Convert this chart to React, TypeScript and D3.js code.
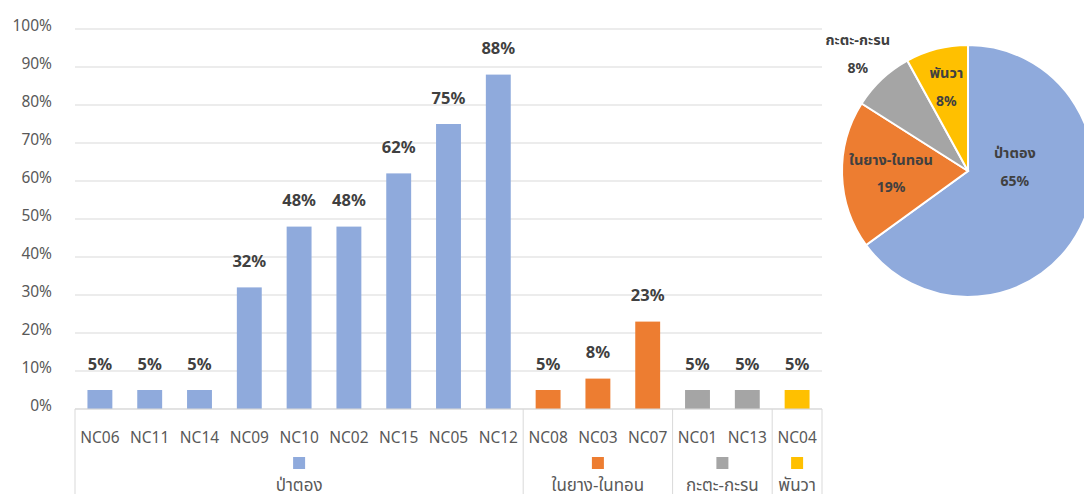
import React from "react";
import * as d3 from "d3";

const categories = ["NC06","NC11","NC14","NC09","NC10","NC02","NC15","NC05","NC12","NC08","NC03","NC07","NC01","NC13","NC04"];
const values = [5,5,5,32,48,48,62,75,88,5,8,23,5,5,5];
const catGroup = [0,0,0,0,0,0,0,0,0,1,1,1,2,2,3];
const groups = ["ป่าตอง","ในยาง-ในทอน","กะตะ-กะรน","พันวา"];
const groupColors = ["#8FAADC","#ED7D31","#A5A5A5","#FFC000"];
const pieValues = [65,19,8,8];
const yTicks = [0,10,20,30,40,50,60,70,80,90,100];

const W = 1084, H = 494;
const FONT = "'Noto Sans', 'Noto Sans Thai', 'Leelawadee UI', Tahoma, sans-serif";

export default function App() {
  const plotL = 75, plotR = 822, plotT = 29, plotB = 409;
  const y = d3.scaleLinear().domain([0, 100]).range([plotB, plotT]);
  const x = d3.scaleBand<string>().domain(categories).range([plotL, plotR]).paddingInner(0.5).paddingOuter(0.25);
  const step = x.step();
  const bw = x.bandwidth();
  const boundaryLeft = (i: number) => (x(categories[i]) as number) + bw / 2 - step / 2;

  const groupExt = groups.map((g, gi) => {
    const idx = categories.map((_, i) => i).filter(i => catGroup[i] === gi);
    const a = boundaryLeft(idx[0]);
    const b = boundaryLeft(idx[idx.length - 1]) + step;
    return { a, b, mid: (a + b) / 2 };
  });
  const seps = [plotL, ...groupExt.map(e => e.b)];

  const cx = 968, cy = 171, R = 126;
  const pie = d3.pie<number>().sort(null).value(d => d)(pieValues);
  const arc = d3.arc<d3.PieArcDatum<number>>().innerRadius(0).outerRadius(R);
  const labelR = [47, 77, 161, 87];
  const labelAngleShift = [-0.55, 0, 0, 0];

  return (
    <svg width={W} height={H} style={{ position: "absolute", left: 0, top: 0, fontFamily: FONT }}>
      <rect x={0} y={0} width={W} height={H} fill="#fff" />
      {yTicks.map(t => (
        <g key={t}>
          <line x1={plotL} x2={plotR} y1={y(t)} y2={y(t)} stroke="#D9D9D9" strokeWidth={1} />
          <text x={52} y={y(t) - 3} dy="0.35em" textAnchor="end" fontSize={15.5} fill="#595959">{t}%</text>
        </g>
      ))}
      {categories.map((c, i) => (
        <g key={c}>
          <rect x={x(c)} y={y(values[i])} width={bw} height={plotB - y(values[i])} fill={groupColors[catGroup[i]]} />
          <text x={(x(c) as number) + bw / 2} y={y(values[i]) - 26} dy="0.35em" textAnchor="middle" fontSize={16.5} fontWeight="bold" fill="#404040">{values[i]}%</text>
          <text x={(x(c) as number) + bw / 2} y={438} dy="0.35em" textAnchor="middle" fontSize={15.5} fill="#595959">{c}</text>
        </g>
      ))}
      <line x1={plotL} x2={plotR} y1={plotB} y2={plotB} stroke="#D9D9D9" strokeWidth={1} />
      {seps.map((s, i) => (
        <line key={i} x1={s} x2={s} y1={plotB} y2={H} stroke="#D9D9D9" strokeWidth={1} />
      ))}
      {groups.map((g, gi) => (
        <g key={g}>
          <rect x={groupExt[gi].mid - 6} y={457} width={12} height={12} fill={groupColors[gi]} />
          <text x={groupExt[gi].mid} y={485} dy="0.35em" textAnchor="middle" fontSize={17} fill="#595959">{g}</text>
        </g>
      ))}
      <g transform={`translate(${cx},${cy})`}>
        {pie.map((p, i) => (
          <path key={i} d={arc(p) as string} fill={groupColors[i]} stroke="#fff" strokeWidth={2} />
        ))}
        {pie.map((p, i) => {
          const a = (p.startAngle + p.endAngle) / 2 + labelAngleShift[i];
          const lx = labelR[i] * Math.sin(a);
          const ly = -labelR[i] * Math.cos(a);
          return (
            <g key={"l" + i}>
              <text x={lx} y={ly - 14} dy="0.35em" textAnchor="middle" fontSize={14.5} fontWeight="bold" fill="#404040">{groups[i]}</text>
              <text x={lx} y={ly + 14} dy="0.35em" textAnchor="middle" fontSize={14} fontWeight="bold" fill="#404040">{p.data}%</text>
            </g>
          );
        })}
      </g>
    </svg>
  );
}
